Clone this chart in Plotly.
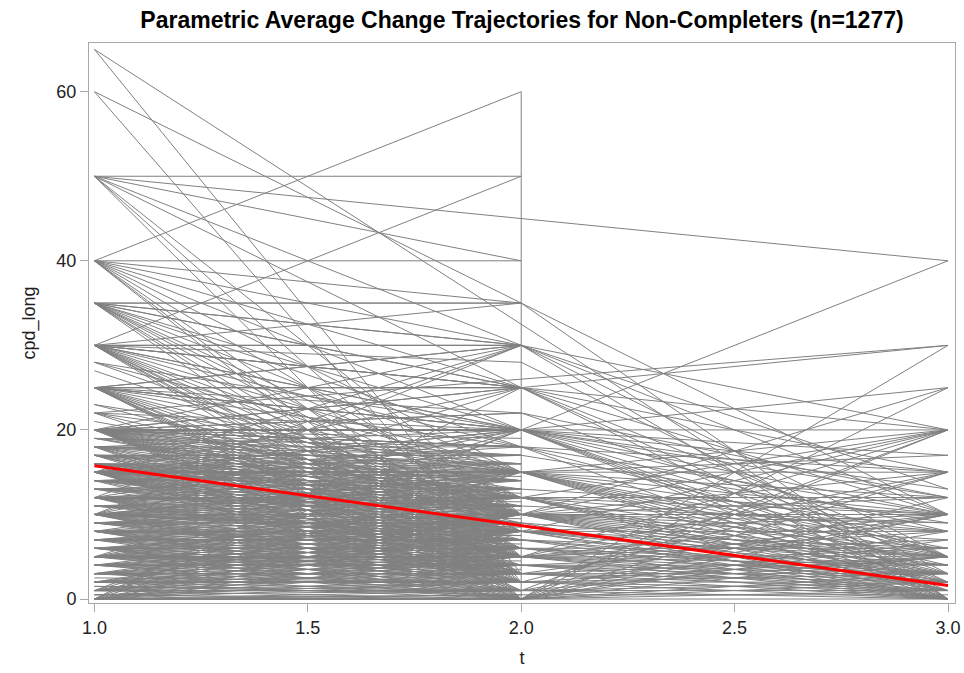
import plotly.graph_objects as go

# Individual cigarettes-per-day trajectories (cpd_long) by visit t
visits = [1, 2, 3]

# subjects observed at t=1 and t=2: (cpd at t1, cpd at t2)
pairs_12 = [
    (65, 3), (60, 2),
    (50, 50), (50, 30), (50, 10), (50, 5), (50, 0), (50, 25), (50, 40),
    (40, 60), (40, 40), (40, 35), (40, 20), (40, 10), (40, 5), (40, 0), (40, 15), (40, 2), (40, 25),
    (35, 35), (35, 30), (35, 25), (35, 20), (35, 15), (35, 10), (35, 5), (35, 0), (35, 3), (35, 12), (35, 8), (35, 18),
    (30, 50), (30, 35), (30, 30), (30, 25), (30, 20), (30, 15), (30, 10), (30, 5), (30, 0), (30, 3), (30, 12), (30, 8),
    (30, 2), (30, 18), (30, 6),
    (28, 20), (28, 10), (28, 15), (27, 10),
    (25, 30), (25, 25), (25, 20), (25, 15), (25, 10), (25, 5), (25, 0), (25, 12), (25, 8), (25, 3), (25, 2), (25, 18),
    (25, 6), (25, 1),
    (23, 15), (23, 10), (22, 15), (22, 10), (22, 5), (22, 20), (21, 12),
    (20, 30), (20, 25), (20, 22), (20, 20), (20, 18), (20, 15), (20, 12), (20, 10), (20, 8), (20, 7), (20, 6), (20, 5),
    (20, 4), (20, 3), (20, 2), (20, 1), (20, 0), (20, 14), (20, 16), (20, 11), (20, 13), (20, 9), (20, 17), (20, 19),
    (19, 15), (19, 10), (19, 18), (19, 12), (19, 17),
    (18, 20), (18, 15), (18, 12), (18, 10), (18, 8), (18, 5), (18, 3), (18, 0), (18, 17), (18, 16), (18, 14),
    (17, 15), (17, 12), (17, 10), (17, 8), (17, 6), (17, 5), (17, 2), (17, 17), (17, 16), (17, 14), (17, 13),
    (16, 15), (16, 12), (16, 10), (16, 8), (16, 5), (16, 3), (16, 14), (16, 13), (16, 11), (16, 16),
    (15, 25), (15, 20), (15, 18), (15, 15), (15, 14), (15, 13), (15, 12), (15, 11), (15, 10), (15, 9), (15, 8), (15, 7),
    (15, 6), (15, 5), (15, 4), (15, 3), (15, 2), (15, 1), (15, 0), (15, 30), (15, 16), (15, 17), (15, 14.5), (15, 12.5),
    (14, 15), (14, 12), (14, 10), (14, 8), (14, 5), (14, 2), (14, 14), (14, 13), (14, 11), (14, 9), (14, 16),
    (13, 12), (13, 10), (13, 8), (13, 5), (13, 13), (13, 11), (13, 9), (13, 15), (13, 14),
    (12, 30), (12, 20), (12, 15), (12, 12), (12, 11), (12, 10), (12, 9), (12, 8), (12, 7), (12, 6), (12, 5), (12, 4),
    (12, 3), (12, 2), (12, 0), (12, 13), (12, 14), (12, 10.5), (12, 11.5),
    (11, 10), (11, 8), (11, 6), (11, 11), (11, 12), (11, 9), (11, 7), (11, 13),
    (10, 30), (10, 25), (10, 20), (10, 15), (10, 12), (10, 11), (10, 10), (10, 9), (10, 8), (10, 7), (10, 6), (10, 5),
    (10, 4), (10, 3), (10, 2), (10, 1), (10, 0), (10, 13), (10, 14), (10, 9.5), (10, 8.5), (10, 7.5),
    (9, 10), (9, 8), (9, 7), (9, 5), (9, 3), (9, 9), (9, 11), (9, 6), (9, 12), (9, 4),
    (8, 15), (8, 10), (8, 9), (8, 8), (8, 7), (8, 6), (8, 5), (8, 4), (8, 3), (8, 2), (8, 1), (8, 0), (8, 12),
    (8, 7.5), (8, 6.5),
    (7, 10), (7, 8), (7, 7), (7, 6), (7, 5), (7, 3), (7, 2), (7, 0), (7, 9), (7, 4), (7, 11),
    (6, 10), (6, 8), (6, 6), (6, 5), (6, 4), (6, 3), (6, 2), (6, 1), (6, 7), (6, 9), (6, 0),
    (5, 20), (5, 15), (5, 10), (5, 8), (5, 7), (5, 6), (5, 5), (5, 4), (5, 3), (5, 2), (5, 1), (5, 0), (5, 12),
    (5, 9), (5, 4.5), (5, 3.5),
    (4, 10), (4, 5), (4, 4), (4, 3), (4, 2), (4, 1), (4, 0), (4, 6), (4, 7), (4, 8),
    (3, 10), (3, 6), (3, 5), (3, 4), (3, 3), (3, 2), (3, 1), (3, 0), (3, 8), (3, 7),
    (2, 10), (2, 5), (2, 3), (2, 2), (2, 1), (2, 0), (2, 4), (2, 6), (2, 8),
    (1, 20), (1, 10), (1, 5), (1, 3), (1, 2), (1, 1), (1, 0), (1, 4), (1, 6), (1, 8), (1, 15),
    (0.5, 0), (0.5, 1), (0.5, 2), (1.5, 1), (1.5, 0.5), (2.5, 2),
    (0, 25), (0, 20), (0, 15), (0, 10), (0, 5), (0, 3), (0, 2), (0, 1), (0, 0), (0, 4), (0, 6), (0, 8), (0, 0.5),
]

# subjects observed at all three visits: (t1, t2, t3)
full_123 = [
    (60, 35, 10), (35, 35, 0), (30, 30, 13), (40, 30, 5), (35, 30, 0), (25, 30, 20), (30, 30, 10),
    (30, 25, 30), (25, 25, 20), (30, 25, 10), (25, 25, 5), (35, 25, 0), (20, 25, 15), (25, 25, 2),
    (25, 22, 5), (20, 22, 12), (30, 28, 3),
    (25, 20, 40), (20, 20, 25), (20, 20, 20), (20, 20, 15), (25, 20, 12), (20, 20, 10), (30, 20, 5),
    (20, 20, 3), (20, 20, 0), (20, 20, 17), (15, 20, 8), (20, 20, 2), (20, 20, 1), (20, 20, 13),
    (20, 18, 10), (18, 18, 15), (20, 18, 5), (20, 18, 0), (17, 17, 9),
    (15, 15, 20), (15, 15, 15), (15, 15, 12), (15, 15, 10), (20, 15, 8), (15, 15, 5), (15, 15, 3),
    (15, 15, 0), (15, 15, 1), (10, 15, 2), (15, 15, 17), (15, 13, 10), (15, 15, 4), (15, 15, 6),
    (12, 12, 20), (12, 12, 12), (15, 12, 10), (12, 12, 8), (12, 12, 5), (10, 12, 2), (12, 12, 0),
    (12, 12, 3), (12, 12, 1), (12, 11, 9),
    (10, 10, 20), (10, 10, 15), (10, 10, 12), (10, 10, 10), (10, 10, 8), (10, 10, 7), (10, 10, 5),
    (10, 10, 4), (10, 10, 3), (10, 10, 2), (10, 10, 1), (10, 10, 0), (10, 10, 25), (10, 10, 6), (10, 10, 9),
    (9, 9, 5), (9, 9, 0),
    (8, 8, 10), (8, 8, 8), (10, 8, 5), (8, 8, 3), (8, 8, 1), (10, 8, 0), (8, 8, 20), (8, 8, 6), (8, 8, 4),
    (7, 7, 5), (7, 7, 0), (7, 7, 3), (7, 7, 2), (6, 6, 6), (5, 6, 3), (6, 6, 4), (6, 6, 2), (6, 6, 0),
    (5, 5, 20), (5, 5, 10), (5, 5, 7), (5, 5, 5), (5, 5, 4), (5, 5, 3), (5, 5, 2), (5, 5, 1), (5, 5, 0),
    (5, 5, 15), (5, 5, 8), (4, 4, 4), (4, 4, 2), (5, 4, 0), (4, 4, 3), (4, 4, 6), (4, 4, 1),
    (3, 3, 10), (3, 3, 3), (3, 3, 1), (3, 3, 0), (3, 3, 5), (3, 3, 2),
    (2, 2, 5), (2, 2, 2), (2, 2, 0), (2, 2, 15), (2, 2, 1), (2, 2, 3),
    (1, 1, 10), (1, 1, 1), (1, 1, 0), (1, 1, 20), (1, 1, 2), (1, 1, 5),
    (0, 0, 30), (0, 0, 25), (0, 0, 20), (0, 0, 15), (0, 0, 10), (0, 0, 5), (0, 0, 3), (0, 0, 2),
    (0, 0, 1), (0, 0, 0), (0, 0, 12), (0, 0, 8), (0, 0, 7), (0, 0.5, 0.5),
]

# subjects observed at t=1 and t=3 only: (t1, t3)
skip_13 = [(65, 0), (50, 40), (22, 30)]

# range of values recorded at the second visit, drawn as one connected span
span_t2 = (0, 60)

# parametric average trajectory
avg_cpd = [15.75, 8.68, 1.61]

xs, ys = [], []
for a, b in pairs_12:
    xs += [visits[0], visits[1], None]
    ys += [a, b, None]
for a, b, c in full_123:
    xs += [visits[0], visits[1], visits[2], None]
    ys += [a, b, c, None]
for a, c in skip_13:
    xs += [visits[0], visits[2], None]
    ys += [a, c, None]
xs += [visits[1], visits[1], None]
ys += [span_t2[0], span_t2[1], None]

fig = go.Figure()
fig.add_trace(go.Scatter(
    x=xs, y=ys, mode="lines", connectgaps=False,
    line=dict(color="#808080", width=1), hoverinfo="skip", showlegend=False,
))
fig.add_trace(go.Scatter(
    x=visits, y=avg_cpd, mode="lines",
    line=dict(color="#ff0000", width=3), hoverinfo="skip", showlegend=False,
))

font_family = "Liberation Sans, Arial, sans-serif"
axis_common = dict(
    showline=True, mirror=True, linecolor="#a8a8a8", linewidth=1,
    showgrid=False, zeroline=False, automargin=False,
    ticks="outside", ticklen=8, tickcolor="#a8a8a8", tickwidth=1,
    tickfont=dict(family=font_family, size=18, color="#222222"),
)

fig.update_layout(
    width=964, height=673,
    margin=dict(l=89, r=9, t=43, b=70, autoexpand=False),
    paper_bgcolor="white", plot_bgcolor="white",
    title=dict(
        text="<b>Parametric Average Change Trajectories for Non-Completers (n=1277)</b>",
        font=dict(family=font_family, size=23, color="#000000"),
        x=0.5, xref="paper", xanchor="center",
        y=1 - 20 / 673, yref="container", yanchor="middle",
    ),
    xaxis=dict(
        range=[0.9873, 3.0164], tickvals=[1.0, 1.5, 2.0, 2.5, 3.0], tickformat=".1f",
        title=dict(text="t", font=dict(family=font_family, size=18, color="#222222"), standoff=14),
        **axis_common,
    ),
    yaxis=dict(
        range=[-0.47, 65.76], tickvals=[0, 20, 40, 60],
        title=dict(text="cpd_long", font=dict(family=font_family, size=18, color="#222222"), standoff=16),
        **axis_common,
    ),
)

fig.write_html("out.html")
